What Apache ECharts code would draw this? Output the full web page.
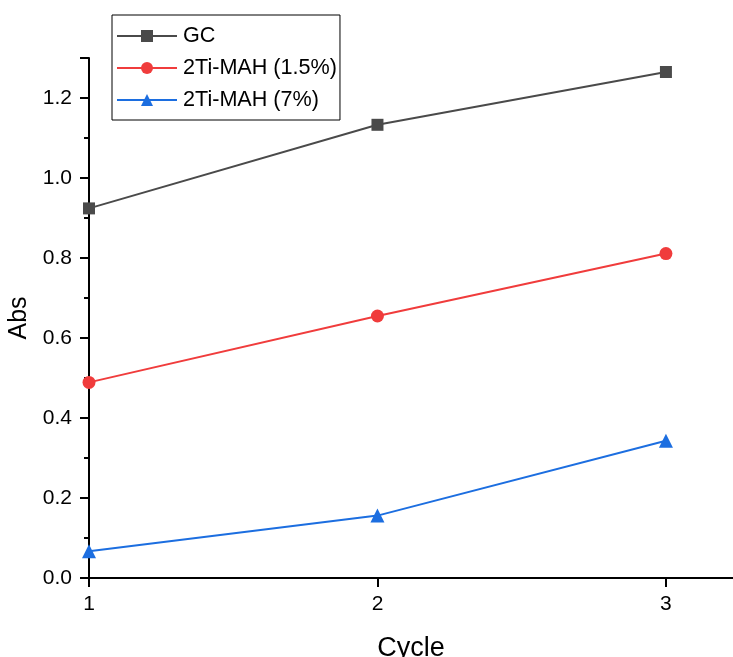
<!DOCTYPE html>
<html>
<head>
<meta charset="utf-8">
<script src="https://cdn.jsdelivr.net/npm/echarts@6/dist/echarts.min.js"></script>
<style>
  html, body { margin: 0; padding: 0; background: #fff; }
  #chart { width: 733px; height: 657px; }
</style>
</head>
<body>
<div id="chart"></div>
<script>
// cycle numbers on x
var cycles = [1, 2, 3];
// absorbance per series
var gcAbs = [0.924, 1.133, 1.265];
var ti15Abs = [0.489, 0.655, 0.811];
var ti7Abs = [0.067, 0.156, 0.343];
var seriesNames = ['GC', '2Ti-MAH (1.5%)', '2Ti-MAH (7%)'];
var xTicks = [1, 2, 3];

function pairs(xs, ys) {
    return xs.map(function (x, i) { return [x, ys[i]]; });
}

var font = 'Liberation Sans, Arial, sans-serif';
var chart = echarts.init(document.getElementById('chart'));

chart.setOption({
    animation: false,
    grid: { left: 89, right: 0, top: 58, bottom: 79, outerBoundsMode: 'none', containLabel: false },
    legend: {
        orient: 'vertical',
        left: 112,
        top: 15,
        itemWidth: 60,
        itemHeight: 15,
        itemGap: 10,
        padding: [10, 3, 9, 4],
        borderColor: '#000',
        borderWidth: 1,
        textStyle: { fontFamily: font, fontSize: 21.6, color: '#000', padding: [0, 0, 0, 1] },
        data: seriesNames
    },
    xAxis: {
        type: 'value',
        min: 1,
        max: 3.2325,
        interval: 1,
        name: 'Cycle',
        nameLocation: 'middle',
        nameGap: 57,
        nameTextStyle: { fontFamily: font, fontSize: 27, color: '#000' },
        axisLine: { lineStyle: { color: '#000', width: 2 } },
        axisTick: { inside: false, length: 9, customValues: xTicks, lineStyle: { color: '#000', width: 2 } },
        axisLabel: {
            fontFamily: font, fontSize: 21, color: '#000', margin: 16,
            customValues: xTicks,
            formatter: function (v) { return String(v); }
        },
        splitLine: { show: false }
    },
    yAxis: {
        type: 'value',
        min: 0,
        max: 1.3,
        interval: 0.2,
        name: 'Abs',
        nameLocation: 'middle',
        nameGap: 55,
        nameTextStyle: { fontFamily: font, fontSize: 25, color: '#000' },
        axisLine: { show: true, lineStyle: { color: '#000', width: 2 } },
        axisTick: { show: true, length: 9, lineStyle: { color: '#000', width: 2 } },
        minorTick: { show: true, splitNumber: 2, length: 5, lineStyle: { color: '#000', width: 2 } },
        axisLabel: {
            fontFamily: font, fontSize: 21, color: '#000', margin: 17,
            showMaxLabel: false,
            formatter: function (v) { return v.toFixed(1); }
        },
        splitLine: { show: false }
    },
    series: [
        {
            name: seriesNames[0], type: 'line', data: pairs(cycles, gcAbs),
            symbol: 'rect', symbolSize: 12,
            lineStyle: { color: '#4a4a4a', width: 2 },
            itemStyle: { color: '#4a4a4a' }
        },
        {
            name: seriesNames[1], type: 'line', data: pairs(cycles, ti15Abs),
            symbol: 'circle', symbolSize: 13,
            lineStyle: { color: '#f03c3c', width: 2 },
            itemStyle: { color: '#f03c3c' }
        },
        {
            name: seriesNames[2], type: 'line', data: pairs(cycles, ti7Abs),
            symbol: 'triangle', symbolSize: 14,
            lineStyle: { color: '#1c6ee0', width: 2 },
            itemStyle: { color: '#1c6ee0' }
        }
    ]
});
</script>
</body>
</html>
